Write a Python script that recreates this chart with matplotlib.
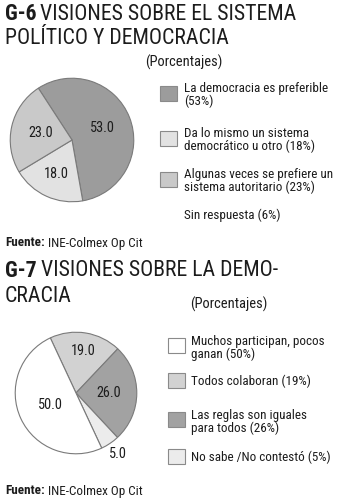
import matplotlib
matplotlib.use("Agg")
import matplotlib.pyplot as plt
from matplotlib import font_manager
from matplotlib.font_manager import FontProperties
from matplotlib.patches import Rectangle
import numpy as np

# ---- data ----
g6_values = [53.0, 18.0, 23.0]
g6_colors = ["#9c9c9c", "#e2e2e2", "#c9c9c9"]
g6_legend = ["La democracia es preferible\n(53%)",
             "Da lo mismo un sistema\ndemocrático u otro (18%)",
             "Algunas veces se prefiere un\nsistema autoritario (23%)"]
g6_extra = "Sin respuesta (6%)"

g7_values = [19.0, 26.0, 5.0, 50.0]
g7_colors = ["#d2d2d2", "#a2a2a2", "#ececec", "#ffffff"]
g7_legend_order = [3, 0, 1, 2]
g7_legend = ["Todos colaboran (19%)",
             "Las reglas son iguales\npara todos (26%)",
             "No sabe /No contestó (5%)",
             "Muchos participan, pocos\nganan (50%)"]

# ---- pick a condensed sans font if one is installed ----
COND = ("condensed", "semi-condensed", "extra-condensed", "ultra-condensed")

def is_cond(f):
    st = f.stretch
    if isinstance(st, str):
        if st in COND:
            return True
    elif isinstance(st, (int, float)) and st < 500:
        return True
    n = (f.name + " " + f.fname).lower()
    return "narrow" in n or "condensed" in n

def wnum(w):
    if isinstance(w, (int, float)):
        return w
    return {"normal": 400, "regular": 400, "bold": 700, "medium": 500,
            "book": 400, "light": 300, "semibold": 600, "demibold": 600}.get(str(w).lower(), 400)

pref = ["Liberation Sans Narrow", "Roboto Condensed", "Noto Sans", "DejaVu Sans",
        "Open Sans", "Roboto", "Lato", "Inter"]
cands = [f for f in font_manager.fontManager.ttflist
         if is_cond(f) and f.style == "normal" and "mono" not in f.name.lower()
         and "serif" not in f.name.lower().replace("sans", "")]

def pick(weight):
    best = None
    for f in cands:
        fam_rank = pref.index(f.name) if f.name in pref else len(pref)
        key = (fam_rank, abs(wnum(f.weight) - weight),
               0 if "extra" not in f.fname.lower() and "ultra" not in f.fname.lower() else 1,
               0 if "semi" not in f.fname.lower() else 1)
        if best is None or key < best[0]:
            best = (key, f)
    if best is None or abs(wnum(best[1].weight) - weight) > 150:
        return None
    return best[1].fname

reg_path = pick(400)
bold_path = pick(700)

def fp(bold=False, size=10):
    path = bold_path if bold else reg_path
    if path:
        return FontProperties(fname=path, size=size)
    return FontProperties(family="Liberation Sans", weight="bold" if bold else "normal", size=size)

W, H = 342, 500
fig = plt.figure(figsize=(W / 100, H / 100), dpi=100)
fig.patch.set_facecolor("white")
renderer = fig.canvas.get_renderer()

def fx(x):
    return x / W

def fy(y):
    return 1 - y / H

def fit_size(s, target, bold=False, base=20):
    t = fig.text(0, 0, s, fontproperties=fp(bold, base))
    w = t.get_window_extent(renderer).width
    t.remove()
    return base * target / w

TXT = "#1c1c1c"
EDGE = "#7a7a7a"

TS = min(17.5, fit_size("VISIONES SOBRE EL SISTEMA", 257))
LS = min(11.0, fit_size("La democracia es preferible", 144))
PCS = min(11.0, fit_size("(Porcentajes)", 77))
PS = min(11.5, fit_size("53.0", 25))
FS = min(11.5, fit_size("INE-Colmex Op Cit", 95))

def title(x, y, bold, rest, size=TS):
    t1 = fig.text(fx(x), fy(y), bold, fontproperties=fp(True, size),
                  color=TXT, va="center", ha="left")
    bb = t1.get_window_extent(renderer)
    fig.text(bb.x1 / W + fx(4), fy(y), rest, fontproperties=fp(False, size),
             color=TXT, va="center", ha="left")

def plain(x, y, s, size=LS):
    fig.text(fx(x), fy(y), s, fontproperties=fp(False, size), color=TXT,
             va="center", ha="left", linespacing=1.05)

def fuente(y):
    t = fig.text(fx(5), fy(y), "Fuente:", fontproperties=fp(True, FS),
                 color=TXT, va="center", ha="left")
    bb = t.get_window_extent(renderer)
    fig.text(bb.x1 / W + fx(3), fy(y), "INE-Colmex Op Cit",
             fontproperties=fp(False, FS), color=TXT, va="center", ha="left")

def pie(cx, cy, r, values, colors, start, dists):
    ax = fig.add_axes([fx(cx - r), fy(cy + r), 2 * r / W, 2 * r / H])
    wedges, texts = ax.pie(values, colors=colors, startangle=start,
                           counterclock=False, labels=[f"{v:.1f}" for v in values],
                           labeldistance=0.55,
                           wedgeprops=dict(edgecolor=EDGE, linewidth=0.8),
                           textprops=dict(fontproperties=fp(False, PS), color=TXT))
    for w, t, d in zip(wedges, texts, dists):
        a = np.deg2rad((w.theta1 + w.theta2) / 2)
        t.set_position((d * np.cos(a), d * np.sin(a)))
        t.set_ha("center")
        t.set_va("center")
    ax.set_xlim(-1.02, 1.02)
    ax.set_ylim(-1.02, 1.02)
    ax.set_aspect("auto")
    ax.axis("off")

def box(x, y, c):
    fig.add_artist(Rectangle((fx(x), fy(y + 15)), 17 / W, 15 / H,
                             transform=fig.transFigure, facecolor=c,
                             edgecolor="#8a8a8a", linewidth=0.8))

# ---- G-6 ----
title(5, 14, "G-6", "VISIONES SOBRE EL SISTEMA")
plain(5, 39, "POLÍTICO Y DEMOCRACIA", size=TS)
plain(145, 62, "(Porcentajes)", size=PCS)
pie(72, 140, 63, g6_values, g6_colors, 123, [0.53, 0.6, 0.52])
box_y6 = [86, 131, 172]
for i, (lab, col) in enumerate(zip(g6_legend, g6_colors)):
    box(160, box_y6[i], col)
    plain(184, box_y6[i] + 9, lab)
plain(184, 215, g6_extra)
fuente(243)

# ---- G-7 ----
title(5, 271, "G-7", "VISIONES SOBRE LA DEMO-")
plain(5, 296, "CRACIA", size=TS)
plain(190, 304, "(Porcentajes)", size=PCS)
pie(76, 393, 62, g7_values, g7_colors, 115, [0.7, 0.54, 1.22, 0.47])
box_y7 = [338, 373, 412, 449]
for k, i in enumerate(g7_legend_order):
    box(168, box_y7[k], g7_colors[i])
    off = 10 if "\n" in g7_legend[i] else 8
    plain(191, box_y7[k] + off, g7_legend[i])
fuente(491)

fig.savefig("out.png", dpi=100, facecolor="white")
